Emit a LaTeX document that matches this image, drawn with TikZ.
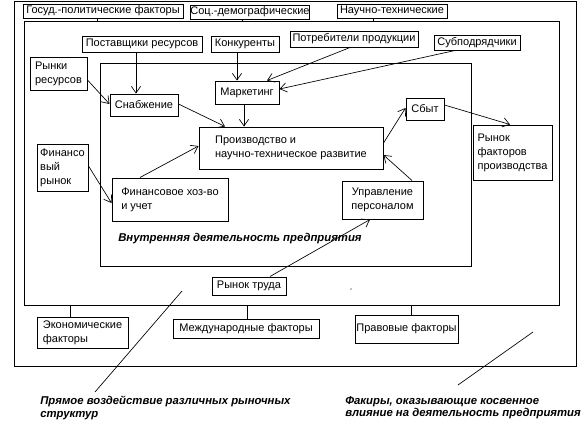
\documentclass[tikz,border=0pt]{standalone}
\usepackage{fontspec}
\setmainfont{Liberation Sans}
\usetikzlibrary{arrows.meta}
\tikzset{
  box/.style={draw, line width=0.75pt, inner sep=0pt, fill=white, font=\fontsize{8.25}{10.6}\selectfont, align=center},
  lbox/.style={box, align=left},
  frame/.style={draw, line width=0.75pt, inner sep=0pt},
  arr/.style={line width=0.5pt, -{Straight Barb[length=5pt,width=7pt]}},
  conn/.style={line width=0.75pt},
  lbl/.style={font=\fontsize{8.5}{9.2}\selectfont\bfseries\itshape, align=left, inner sep=0pt},
  pointer/.style={line width=0.5pt},
}
% box from pixel corners (x1,y1)-(x2,y2)
\newcommand\bx[7][box]{%
  \node[#1, minimum width={(#5-#3)*0.75pt}, minimum height={(#6-#4)*0.75pt}]
    (#2) at ({(#3+#5)/2},{(#4+#6)/2}) {#7};}
\begin{document}
\begin{tikzpicture}[x=0.75pt,y=-0.75pt]
\useasboundingbox (0,0) rectangle (583,426);
% frames
\bx[frame]{outer}{14}{1}{576}{366}{}
\bx[frame]{mid}{24}{21}{559}{305}{}
\bx[frame]{inner}{100}{63}{471}{266}{}
% top factors
\bx{gp}{23}{4}{183}{18}{Госуд.-политические факторы}
\bx{sd}{192}{5}{308}{19}{Соц.-демографические}
\bx{nt}{337}{4}{447}{18}{Научно-технические}
% market boxes
\bx{post}{82}{36}{202}{52}{Поставщики ресурсов}
\bx{konk}{211}{36}{279}{52}{Конкуренты}
\bx{potr}{290}{31}{418}{47}{Потребители продукции}
\bx{sub}{434}{35}{520}{50}{Субподрядчики}
\bx[lbox]{rr}{30}{57}{87}{90}{Рынки\\ресурсов}
\bx[lbox]{fr}{37}{144}{88}{191}{Финансо\\вый\\рынок}
\bx[lbox]{rf}{473}{125}{552}{180}{Рынок\\факторов\\производства}
\bx{rt}{212}{277}{286}{295}{Рынок труда}
% internal
\bx{snab}{110}{94}{178}{116}{Снабжение}
\bx{mark}{215}{81}{279}{104}{Маркетинг}
\bx[lbox]{prod}{199}{127}{383}{169}{Производство и\\научно-техническое развитие}
\bx{sbyt}{406}{98}{444}{120}{Сбыт}
\bx[lbox]{fh}{112}{178}{228}{221}{Финансовое хоз-во\\и учет}
\bx{up}{342}{181}{423}{219}{Управление\\персоналом}
\node[lbl, anchor=west] (vd) at (118,239) {Внутренняя деятельность предприятия};
% bottom factors
\bx[lbox]{ek}{37}{317}{128}{348}{Экономические\\факторы}
\bx{md}{173}{319}{319}{338}{Международные факторы}
\bx{pr}{355}{315}{458}{343}{Правовые факторы}
% factor connectors
\draw[conn] (gp.south -| 97,0) -- (mid.north -| 97,0);
\draw[conn] (sd.south -| 242,0) -- (mid.north -| 242,0);
\draw[conn] (nt.south -| 373,0) -- (mid.north -| 373,0);
\draw[conn] (mid.south -| 70,0) -- (ek.north -| 70,0);
\draw[conn] (mid.south -| 247,0) -- (md.north -| 247,0);
\draw[conn] (mid.south -| 411,0) -- (pr.north -| 411,0);
% arrows
\draw[arr] (post.south -| 136,0) -- (snab.north -| 136,0);
\draw[arr] (konk.south -| 237,0) -- (mark.north -| 237,0);
\draw[arr] (potr.south -| 350,0) -- (mark.north -| 267,0);
\draw[arr] (sub.south -| 455,0) -- (mark.east |- 0,89);
\draw[arr] (rr.east |- 0,80) -- (snab.west |- 0,104);
\draw[arr] (snab.east |- 0,104) -- (prod.north -| 225,0);
\draw[arr] (mark.south -| 244,0) -- (prod.north -| 244,0);
\draw[arr] (fr.east |- 0,166) -- (fh.west |- 0,203);
\draw[arr] (fh.north -| 140,0) -- (prod.west |- 0,146);
\draw[arr] (prod.east |- 0,143) -- (sbyt.west |- 0,108);
\draw[arr] (sbyt.east |- 0,105) -- (rf.north -| 510,0);
\draw[arr] (up.north -| 412,0) -- (prod.east |- 0,155);
\draw[arr] (rt.north -| 270,0) -- (up.south -| 370,0);
% bottom labels
\node[lbl, anchor=north west] (l1) at (40,396) {Прямое воздействие различных рыночных\\структур};
\node[lbl, anchor=north west] (l2) at (345,396) {Факиры, оказывающие косвенное\\влияние на деятельность предприятия};
\coordinate (p1a) at (182,291);
\coordinate (p1b) at (95,392);
\coordinate (p2a) at (533,332);
\coordinate (p2b) at (458,385);
\draw[pointer] (p1a) -- (p1b);
\draw[pointer] (p2a) -- (p2b);
\fill (351,289) circle (0.6);
\end{tikzpicture}
\end{document}
